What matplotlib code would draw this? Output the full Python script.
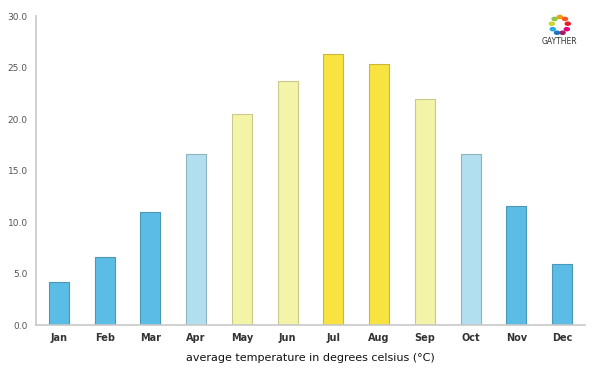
import numpy as np
import matplotlib.pyplot as plt

# monthly average temperatures (deg C)
months = ['Jan', 'Feb', 'Mar', 'Apr', 'May', 'Jun', 'Jul', 'Aug', 'Sep', 'Oct', 'Nov', 'Dec']
temps = [4.2, 6.6, 11.0, 16.6, 20.5, 23.7, 26.3, 25.3, 21.9, 16.6, 11.6, 5.9]
groups = ['cold', 'cold', 'cold', 'mild', 'warm', 'warm', 'hot', 'hot', 'warm', 'mild', 'cold', 'cold']
y_ticks = [0, 5, 10, 15, 20, 25, 30]

fills = {'cold': '#5bbde5', 'mild': '#b1dff0', 'warm': '#f3f4a8', 'hot': '#f8e340'}
edges = {'cold': '#4a98b8', 'mild': '#8fb3c0', 'warm': '#c9c98a', 'hot': '#c9b83a'}

fig = plt.figure(figsize=(6, 3.75), dpi=100)
ax = fig.add_axes([0.06, 0.1333, 0.915, 0.824])

x = np.arange(len(months))
ax.bar(x, temps, width=0.44,
       color=[fills[g] for g in groups],
       edgecolor=[edges[g] for g in groups], linewidth=0.8, zorder=2)

ax.set_xlim(-0.5, 11.5)
ax.set_ylim(0, 30)
ax.set_yticks(y_ticks)
ax.set_yticklabels(['%.1f' % v for v in y_ticks], fontsize=6.5, color='#555555')
ax.set_xticks(x)
ax.set_xticklabels(months, fontsize=7, fontweight='bold', color='#333333')
ax.tick_params(axis='both', length=0)
ax.tick_params(axis='x', pad=6)
ax.tick_params(axis='y', pad=6)

for s in ['top', 'right']:
    ax.spines[s].set_visible(False)
for s in ['left', 'bottom']:
    ax.spines[s].set_color('#c8c8c8')
    ax.spines[s].set_linewidth(1.2)

ax.set_xlabel('average temperature in degrees celsius (\u00b0C)', fontsize=8,
              color='#111111', labelpad=7)

# small logo in top right corner
ring_colors = ['#f39c12', '#8cc63f', '#c5d92d', '#27a9e1', '#1c75bc', '#9e1f63',
               '#e6007e', '#ec1c24', '#f15a24']
ang = np.linspace(np.pi / 2, np.pi / 2 + 2 * np.pi, len(ring_colors), endpoint=False)
lx, ly = 0.933, 0.933
for a, c in zip(ang, ring_colors):
    fig.patches.append(plt.Circle((lx + 0.0135 * np.cos(a), ly + 0.0216 * np.sin(a)), 0.0042,
                                  transform=fig.transFigure, color=c, figure=fig))
fig.text(lx, 0.888, 'GAYTHER', fontsize=5.5, ha='center', va='center', color='#333333')

fig.savefig('out.png', dpi=100)
